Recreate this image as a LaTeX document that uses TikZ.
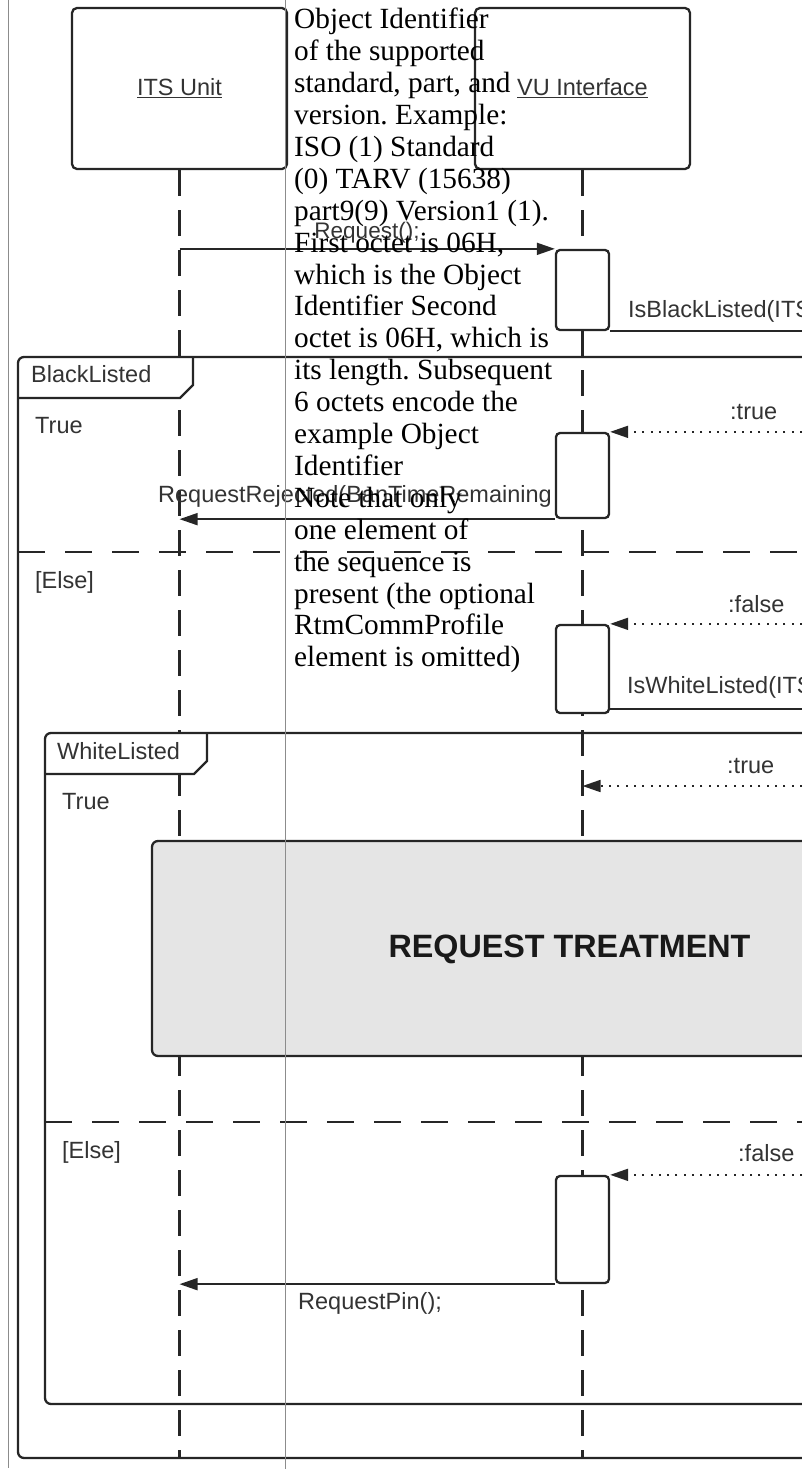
\documentclass[tikz,border=0pt]{standalone}
\usepackage{fontspec}
\setmainfont{Liberation Sans}
\newfontfamily\timesfont{Liberation Serif}
\usetikzlibrary{arrows.meta}
\frenchspacing

\begin{document}
\begin{tikzpicture}[x=1pt,y=-1pt,every node/.style={inner sep=0pt,text=black!80,font=\fontsize{23.5}{28}\selectfont},
lifebox/.style={draw=black!85,line width=2.3pt,rounded corners=5pt,minimum width=215pt,minimum height=161pt},
life/.style={draw=black!85,line width=2.2pt,dash pattern=on 26pt off 14pt},
act/.style={draw=black!85,fill=white,line width=2.3pt,rounded corners=4pt,minimum width=53pt},
msg/.style={draw=black!85,line width=1.7pt,-{Triangle[length=18pt,width=12pt]}},
ret/.style={msg,dash pattern=on 2pt off 6.3pt},
frame/.style={draw=black!85,line width=2.3pt,rounded corners=6pt},
guard/.style={draw=black!85,line width=2.2pt,dash pattern=on 27pt off 20pt},
tab/.style={draw=black!85,line width=2.3pt},
txt/.style={anchor=base west},
grid/.style={draw=black!45,line width=0.8pt}]
\newcommand{\fragTab}[3]{\fill[white] (#1,#2) -- (#3,#2) -- (#3,#2+28) -- (#3-13,#2+41) -- (#1,#2+41) -- cycle;\draw[tab] (#3,#2) -- (#3,#2+28) -- (#3-13,#2+41) -- (#1,#2+41);}
\useasboundingbox (0,0) rectangle (802,1469);
\clip (0,0) rectangle (802,1469);
\draw[grid] (8,0) -- (8,1468);
\node[lifebox] (its) at (179.5,88.5) {\underline{ITS Unit}};
\node[lifebox] (vu) at (582.5,88.5) {\underline{VU Interface}};
\coordinate (bot) at (0,1458);\coordinate (edge) at (860,0);
\draw[life] (its.south) -- (its.south |- bot);
\draw[life] (vu.south) -- (vu.south |- bot);
\draw[guard] (18,552) -- (edge |- 0,552);
\draw[guard] (45,1122) -- (edge |- 0,1122);
\fragTab{18}{357}{193}\fragTab{45}{733}{207}
\draw[frame] (edge |- 0,357) -- (18,357) -- (18,1458) -- (edge |- bot);
\draw[frame] (edge |- 0,733) -- (45,733) -- (45,1404) -- (edge |- 0,1404);
\node[txt] (fb) at (31,382) {BlackListed};
\node[txt] (fbt) at (35,433) {True};
\node[txt] (fbe) at (35,588) {[Else]};
\node[txt] (fw) at (57,759) {WhiteListed};
\node[txt] (fwt) at (62,809) {True};
\node[txt] (fwe) at (62,1158) {[Else]};
\draw[frame,fill=black!10] (152,841) rectangle (edge |- 0,1056);
\node[anchor=base,font=\bfseries\fontsize{32.3}{36}\selectfont,text=black!90] (treat) at (569.5,957) {REQUEST TREATMENT};
\node[anchor=base,font=\fontsize{22.5}{26}\selectfont] (lreq) at (367,238) {Request();};
\node[txt] (lbl) at (628,317) {IsBlackListed(ITS};
\node[txt] (ltrue1) at (730,419) {:true};
\node[txt] (lrej) at (158,502) {RequestRejected(BanTimeRemaining};
\node[txt] (lfalse1) at (728,612) {:false};
\node[txt] (lwl) at (627,693) {IsWhiteListed(ITS};
\node[txt] (ltrue2) at (727,773) {:true};
\node[txt] (lfalse2) at (738,1161) {:false};
\node[txt] (lpin) at (298,1309) {RequestPin();};
\node[act,minimum height=80pt] (a1) at (582.5,290) {};
\node[act,minimum height=85pt] (a2) at (582.5,475.5) {};
\node[act,minimum height=88pt] (a3) at (582.5,669) {};
\node[act,minimum height=107pt] (a4) at (582.5,1229.5) {};
\coordinate (wl) at ([yshift=5pt]a3.south east);\coordinate (wt) at (vu.south |- 0,786);
\draw[msg] (its.south |- a1.north west) -- (a1.north west);
\draw[msg] (a1.south east) -- (edge |- a1.south east);
\draw[ret] (edge |- a2.north east) -- (a2.north east);
\draw[msg] (a2.south west) -- (its.south |- a2.south west);
\draw[ret] (edge |- a3.north east) -- (a3.north east);
\draw[msg] (wl) -- (edge |- wl);
\draw[ret] (edge |- wt) -- (wt);
\draw[ret] (edge |- a4.north east) -- (a4.north east);
\draw[msg] (a4.south west) -- (its.south |- a4.south west);
\draw[grid] (285,0) -- (285,1469);
\node[anchor=north west,align=left,font=\timesfont\fontsize{29.3}{31.9}\selectfont,text=black] (note) at (294,8) {Object Identifier\\of the supported\\standard, part, and\\version. Example:\\ISO (1) Standard\\(0) TARV (15638)\\part9(9) Version1 (1).\\First octet is 06H,\\which is the Object\\Identifier Second\\octet is 06H, which is\\its length. Subsequent\\6 octets encode the\\example Object\\Identifier\\Note that only\\one element of\\the sequence is\\present (the optional\\RtmCommProfile\\element is omitted)};
\end{tikzpicture}
\end{document}
